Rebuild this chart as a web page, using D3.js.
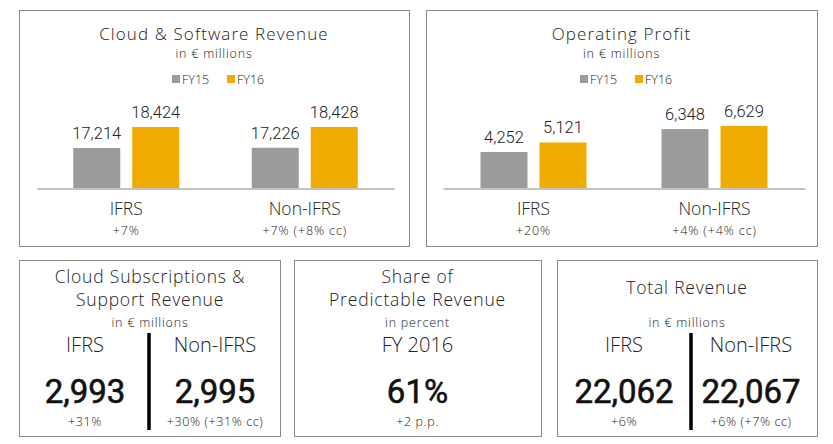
<!DOCTYPE html>
<html><head><meta charset="utf-8">
<script src="https://cdn.jsdelivr.net/npm/d3@7/dist/d3.min.js"></script>
<style>
html,body{margin:0;padding:0;background:#fff;}
svg{display:block;font-family:"Open Sans",Roboto,sans-serif;}
</style></head>
<body>
<svg id="chart" width="833" height="444"></svg>
<script>
// ---- data ----
const groups = ["IFRS", "Non-IFRS"];
const years = ["FY15", "FY16"];
const cloudSoftwareFY15 = [17214, 17226];
const cloudSoftwareFY16 = [18424, 18428];
const cloudSoftwareGrowth = ["+7%", "+7% (+8% cc)"];
const opProfitFY15 = [4252, 6348];
const opProfitFY16 = [5121, 6629];
const opProfitGrowth = ["+20%", "+4% (+4% cc)"];
const cloudSubsValues = [2993, 2995];
const cloudSubsGrowth = ["+31%", "+30% (+31% cc)"];
const predictableShare = [61];
const predictableGrowth = ["+2 p.p."];
const totalRevenueValues = [22062, 22067];
const totalRevenueGrowth = ["+6%", "+6% (+7% cc)"];

const colors = {FY15: "#9b9b9b", FY16: "#f0ab00"};
const svg = d3.select("#chart");
const fmt = d3.format(",");
const textCol = "#222";
const numFont = "Roboto, sans-serif";

function box(x, y, w, h) {
  svg.append("rect").attr("x", x + 0.5).attr("y", y + 0.5).attr("width", w).attr("height", h)
    .attr("fill", "none").attr("stroke", "#8a8a8a").attr("stroke-width", 1);
}
function txt(x, y, s, size, weight, col, fam, ls) {
  const t = svg.append("text").attr("x", x).attr("y", y).attr("text-anchor", "middle")
    .attr("font-size", size).attr("font-weight", weight || 300).attr("fill", col || textCol).text(s);
  if (fam) t.attr("font-family", fam);
  if (ls) t.attr("letter-spacing", ls);
  return t;
}
function bigNum(x, y, s) {
  return txt(x, y, s, 33, 400, "#111", numFont)
    .attr("stroke", "#111").attr("stroke-width", 0.6);
}

function barPanel(p) {
  box(p.x, p.y, p.w, p.h);
  const cx = p.x + p.w / 2;
  txt(cx, 40, p.title, 17, 300, null, null, 1.1);
  txt(cx, 57.5, "in € millions", 12.5, 300, null, null, 0.8);
  // legend
  const lg = svg.append("g").attr("transform", `translate(${p.legendX},0)`);
  years.forEach((yr, i) => {
    const g = lg.append("g").attr("transform", `translate(${i * 55},0)`);
    g.append("rect").attr("x", 0).attr("y", 75).attr("width", 8).attr("height", 8).attr("fill", colors[yr]);
    g.append("text").attr("x", 10).attr("y", 84).attr("font-size", 12.5).attr("font-weight", 300)
      .attr("fill", textCol).text(yr);
  });
  const x0 = d3.scaleBand().domain(groups).range([p.ax0, p.ax1]).paddingInner(0);
  const x1 = d3.scaleBand().domain(years).range([-53, 53]).paddingInner(12 / 59).paddingOuter(0);
  const y = d3.scaleLinear().domain(p.domain).range([188, p.topY]);
  const data = [];
  groups.forEach((g, i) => {
    data.push({g, yr: "FY15", v: p.fy15[i]});
    data.push({g, yr: "FY16", v: p.fy16[i]});
  });
  const bx = d => x0(d.g) + x0.bandwidth() / 2 + x1(d.yr);
  svg.append("g").selectAll("rect").data(data).join("rect")
    .attr("x", bx).attr("y", d => y(d.v)).attr("width", x1.bandwidth())
    .attr("height", d => y(p.domain[0]) - y(d.v)).attr("fill", d => colors[d.yr]);
  svg.append("g").selectAll("text").data(data).join("text")
    .attr("x", d => bx(d) + x1.bandwidth() / 2).attr("y", d => y(d.v) - 9)
    .attr("text-anchor", "middle").attr("font-size", 16.5).attr("font-weight", 300)
    .attr("font-family", numFont)
    .attr("fill", textCol).text(d => fmt(d.v));
  // axis baseline
  const axis = d3.axisBottom(x0).tickSize(0).tickFormat("");
  const ag = svg.append("g").attr("transform", "translate(0,188.5)").call(axis);
  ag.select(".domain").attr("stroke", "#888").attr("stroke-width", 1);
  groups.forEach((g, i) => {
    const c = x0(g) + x0.bandwidth() / 2;
    txt(c, 215, g, 17.5, 300);
    txt(c, 234.5, p.growth[i], 12.5, 300, null, null, 0.9);
  });
}

barPanel({x: 19, y: 10, w: 390, h: 236, title: "Cloud & Software Revenue", legendX: 172,
  ax0: 37, ax1: 394, domain: [14900, 18424], topY: 127,
  fy15: cloudSoftwareFY15, fy16: cloudSoftwareFY16, growth: cloudSoftwareGrowth});
barPanel({x: 426, y: 10, w: 391, h: 236, title: "Operating Profit", legendX: 580,
  ax0: 443, ax1: 805, domain: [960, 6629], topY: 126,
  fy15: opProfitFY15, fy16: opProfitFY16, growth: opProfitGrowth});

// ---- KPI panels ----
function divider(x) {
  svg.append("line").attr("x1", x).attr("x2", x).attr("y1", 333).attr("y2", 430)
    .attr("stroke", "#000").attr("stroke-width", 3.5);
}
// Panel 1
box(19, 260, 261, 176);
txt(150, 283, "Cloud Subscriptions &", 17.5, 300, null, null, 0.8);
txt(150, 306, "Support Revenue", 17.5, 300, null, null, 0.8);
txt(150, 327, "in € millions", 12.5, 300, null, null, 0.8);
divider(149);
const kpiX1 = d3.scalePoint().domain(groups).range([85, 215]);
groups.forEach((g, i) => {
  txt(kpiX1(g), 352, g, 20, 300);
  bigNum(kpiX1(g), 403, fmt(cloudSubsValues[i]));
  txt(kpiX1(g), 426, cloudSubsGrowth[i], 12.5, 300, null, null, 0.6);
});
// Panel 2
box(294, 260, 247, 176);
txt(417.5, 283, "Share of", 17.5, 300, null, null, 0.8);
txt(417.5, 306, "Predictable Revenue", 17.5, 300, null, null, 0.85);
txt(417.5, 327, "in percent", 12.5, 300, null, null, 0.8);
txt(417.5, 352, "FY 2016", 20, 300);
bigNum(417.5, 403, predictableShare[0] + "%");
txt(417.5, 426, predictableGrowth[0], 12.5, 300, null, null, 0.6);
// Panel 3
box(557, 260, 260, 176);
txt(687, 294, "Total Revenue", 17.5, 300, null, null, 0.8);
txt(687, 327, "in € millions", 12.5, 300, null, null, 0.8);
divider(691);
const kpiX3 = d3.scalePoint().domain(groups).range([624, 751]);
groups.forEach((g, i) => {
  txt(kpiX3(g), 352, g, 20, 300);
  bigNum(kpiX3(g), 403, fmt(totalRevenueValues[i]));
  txt(kpiX3(g), 426, totalRevenueGrowth[i], 12.5, 300, null, null, 0.6);
});
</script>
</body></html>
